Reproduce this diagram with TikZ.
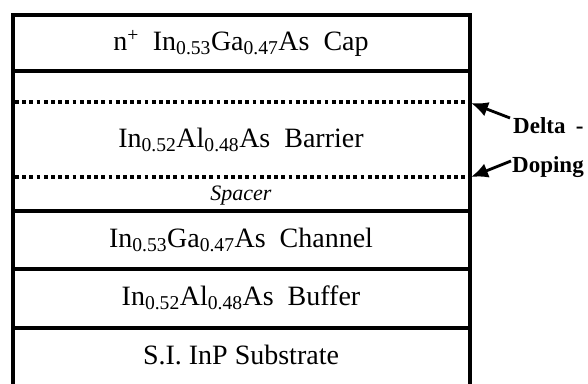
\documentclass[tikz,border=0pt]{standalone}
\usepackage{fontspec}
\setmainfont{Liberation Serif}
\usetikzlibrary{arrows.meta}
\newcommand{\sbs}[1]{\textsubscript{#1}}
\begin{document}
\begin{tikzpicture}[x=1pt,y=-1pt,
  layertext/.style={font=\fontsize{28}{32}\selectfont, inner sep=0pt, anchor=center},
  vline/.style={line width=4pt},
  solidline/.style={line width=3.2pt},
  dotline/.style={line width=3.2pt, dash pattern=on 3.8pt off 3.4pt},
  arr/.style={line width=2.8pt, -{Latex[length=17pt,width=15pt]}},
  lbl/.style={font=\fontsize{23}{26}\selectfont\bfseries, inner sep=0pt, anchor=base west}]
\useasboundingbox (0,0) rectangle (588,383);
\clip (0,0) rectangle (588,383);
% outer box
\draw[vline] (13,395) -- (13,15) -- (470,15) -- (470,395);
% separators
\draw[solidline] (13,71) -- (470,71);
\draw[dotline] (15,102) -- (468,102);
\draw[dotline] (15,177) -- (468,177);
\draw[solidline] (13,211) -- (470,211);
\draw[solidline] (13,269) -- (470,269);
\draw[solidline] (13,328) -- (470,328);
% texts
\node[layertext] (cap) at (241,43) {n\textsuperscript{+}\ \ In\sbs{0.53}Ga\sbs{0.47}As\ \ Cap};
\node[layertext] (barrier) at (241,140) {In\sbs{0.52}Al\sbs{0.48}As\ \ Barrier};
\node[layertext, font=\fontsize{22}{26}\selectfont\itshape] (spacer) at (241,196) {Spacer};
\node[layertext] (channel) at (241,240) {In\sbs{0.53}Ga\sbs{0.47}As\ \ Channel};
\node[layertext] (buffer) at (241,298) {In\sbs{0.52}Al\sbs{0.48}As\ \ Buffer};
\node[layertext] (substrate) at (241,355) {S.I. InP Substrate};
% delta doping label
\node[lbl] (delta) at (513,133) {Delta\hspace{0.45em}-};
\node[lbl] (doping) at (512,172) {Doping};
\coordinate (d1) at (471,103);
\coordinate (d2) at (471,177);
\coordinate (t1) at (510,118);
\coordinate (t2) at (511,161);
\draw[arr] (t1) -- (d1);
\draw[arr] (t2) -- (d2);
\end{tikzpicture}
\end{document}
